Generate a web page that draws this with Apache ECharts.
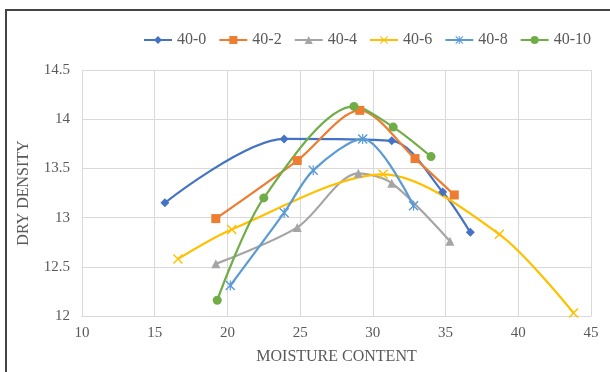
<!DOCTYPE html>
<html>
<head>
<meta charset="utf-8">
<script src="https://cdn.jsdelivr.net/npm/echarts@6/dist/echarts.min.js"></script>
<style>
  html, body { margin: 0; padding: 0; background: #fff; }
  #chart { width: 610px; height: 372px; }
</style>
</head>
<body>
<div id="chart"></div>
<script>
// series data: [moisture content, dry density]
var names = ['40-0', '40-2', '40-4', '40-6', '40-8', '40-10'];
var colors = ['#4472C4', '#ED7D31', '#A5A5A5', '#FFC000', '#5B9BD5', '#70AD47'];

var s40_0 = [[15.7, 13.15], [23.9, 13.8], [31.3, 13.78], [34.8, 13.26], [36.7, 12.85]];
var s40_2 = [[19.2, 12.99], [24.8, 13.58], [29.1, 14.09], [32.9, 13.6], [35.6, 13.23]];
var s40_4 = [[19.2, 12.53], [24.8, 12.9], [29.0, 13.45], [31.3, 13.35], [35.3, 12.76]];
var s40_6 = [[16.6, 12.58], [20.3, 12.88], [30.7, 13.44], [38.7, 12.83], [43.8, 12.03]];
var s40_8 = [[20.2, 12.31], [23.9, 13.05], [25.9, 13.48], [29.3, 13.8], [32.8, 13.12]];
var s40_10 = [[19.3, 12.16], [22.5, 13.2], [28.7, 14.13], [31.4, 13.92], [34.0, 13.62]];

var allData = [s40_0, s40_2, s40_4, s40_6, s40_8, s40_10];

var xPath = 'path://M0,1L1,0L5,4L9,0L10,1L6,5L10,9L9,10L5,6L1,10L0,9L4,5Z';
var starPath = 'path://M0,1L1,0L5,4L9,0L10,1L6,5L10,9L9,10L5,6L1,10L0,9L4,5Z M4.4,0L5.6,0L5.6,10L4.4,10Z';
var symbols = ['diamond', 'rect', 'triangle', xPath, starPath, 'circle'];
var sizes = [9, 9, 9, 10, 10, 9];

var font = 'Liberation Serif';
var chart = echarts.init(document.getElementById('chart'));

var option = {
    animation: false,
    textStyle: { fontFamily: font },
    color: colors,
    graphic: [{
        type: 'rect',
        shape: { x: 6, y: 10, width: 640, height: 400 },
        style: { fill: 'none', stroke: '#444', lineWidth: 2 }
    }],
    legend: {
        top: 27,
        left: 138,
        itemGap: 12,
        itemWidth: 28,
        itemHeight: 10,
        textStyle: { fontFamily: font, fontSize: 16, color: '#595959' },
        data: names
    },
    grid: { left: 82, right: 19, top: 70, bottom: 56 },
    xAxis: {
        type: 'value',
        min: 10, max: 45, interval: 5,
        name: 'MOISTURE CONTENT',
        nameLocation: 'middle',
        nameGap: 33,
        nameTextStyle: { fontFamily: font, fontSize: 16, color: '#595959' },
        axisLine: { lineStyle: { color: '#d9d9d9' } },
        axisTick: { show: false },
        axisLabel: { fontFamily: font, fontSize: 15, color: '#595959', margin: 10 },
        splitLine: { show: true, lineStyle: { color: '#d9d9d9' } }
    },
    yAxis: {
        type: 'value',
        min: 12, max: 14.5, interval: 0.5,
        name: 'DRY DENSITY',
        nameLocation: 'middle',
        nameGap: 50,
        nameTextStyle: { fontFamily: font, fontSize: 16, color: '#595959' },
        axisLine: { show: false },
        axisTick: { show: false },
        axisLabel: { fontFamily: font, fontSize: 15, color: '#595959', margin: 12 },
        splitLine: { lineStyle: { color: '#d9d9d9' } }
    },
    series: []
};

allData.forEach(function (d, i) {
    option.series.push({
        name: names[i],
        type: 'line',
        data: d,
        smooth: 0.3,
        symbol: symbols[i],
        symbolSize: sizes[i],
        showAllSymbol: true,
        lineStyle: { width: 2.2, color: colors[i] },
        itemStyle: { color: colors[i] }
    });
});

chart.setOption(option);
</script>
</body>
</html>
